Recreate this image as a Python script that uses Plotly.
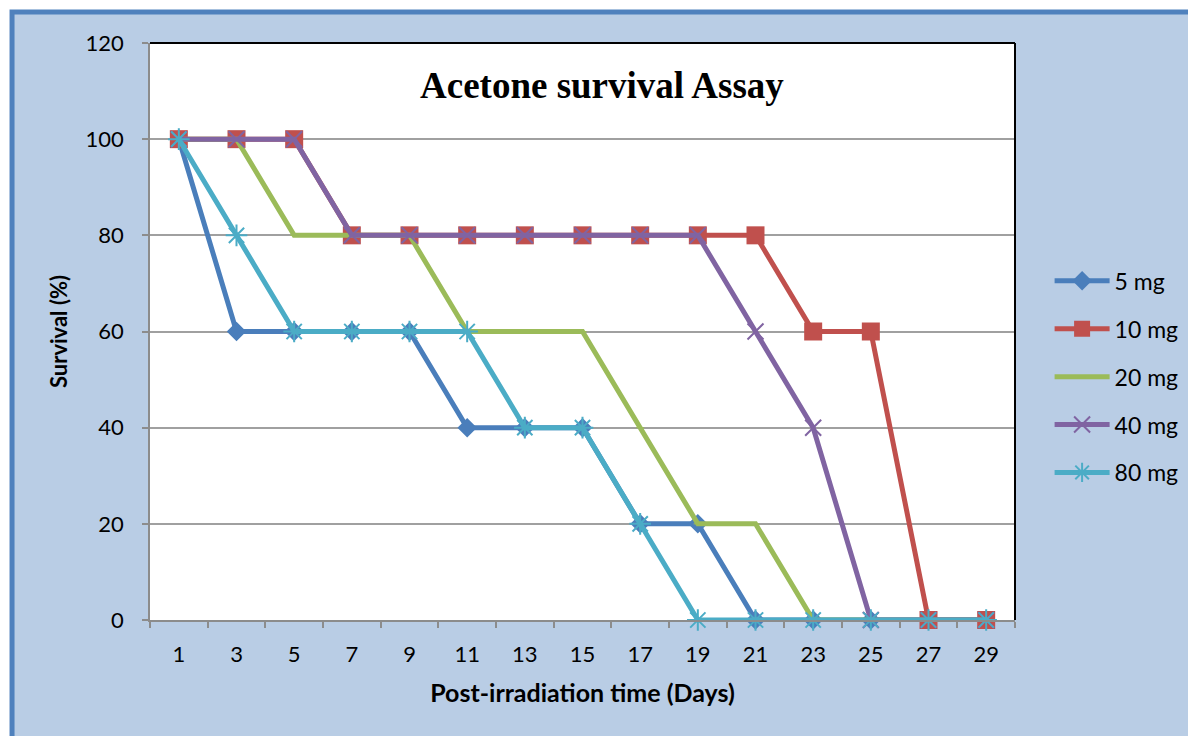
import plotly.graph_objects as go

days = ["1", "3", "5", "7", "9", "11", "13", "15", "17", "19", "21", "23", "25", "27", "29"]
s5 = [100, 60, 60, 60, 60, 40, 40, 40, 20, 20, 0, 0, 0, 0, 0]
s10 = [100, 100, 100, 80, 80, 80, 80, 80, 80, 80, 80, 60, 60, 0, 0]
s20 = [100, 100, 80, 80, 80, 60, 60, 60, 40, 20, 20, 0, 0, 0, 0]
s40 = [100, 100, 100, 80, 80, 80, 80, 80, 80, 80, 60, 40, 0, 0, 0]
s80 = [100, 80, 60, 60, 60, 60, 40, 40, 20, 0, 0, 0, 0, 0, 0]
names = ["5 mg", "10 mg", "20 mg", "40 mg", "80 mg"]

FONT = "Lato"
fig = go.Figure()
styles = [
    dict(color="#4A7EBB", marker=dict(symbol="diamond", size=15, color="#4A7EBB")),
    dict(color="#C0504D", marker=dict(symbol="square", size=18, color="#C0504D")),
    dict(color="#9BBB59", marker=dict(symbol="line-ew", size=6, color="#9BBB59", line=dict(width=1, color="#9BBB59"))),
    dict(color="#8064A2", marker=dict(symbol="x-thin-open", size=16, color="#8064A2", line=dict(width=2, color="#8064A2"))),
    dict(color="#4BACC6", marker=dict(symbol="asterisk-open", size=18, color="#4BACC6", line=dict(width=2, color="#4BACC6"))),
]
for name, ys, st in zip(names, [s5, s10, s20, s40, s80], styles):
    fig.add_trace(go.Scatter(
        x=days, y=ys, name=name, mode="lines+markers", legendgroup=name, cliponaxis=False,
        line=dict(color=st["color"], width=5), marker=st["marker"],
    ))

# page body has an 8px margin; plot area target: x 150..1015, y 43..620
fig.update_layout(
    width=1196, height=736,
    margin=dict(l=142, r=189, t=35, b=124),
    paper_bgcolor="white", plot_bgcolor="white",
    font=dict(family=FONT, size=22, color="black"),
    showlegend=True,
    legend=dict(x=1.04, y=0.625, xanchor="left", yanchor="top", bgcolor="rgba(0,0,0,0)",
                font=dict(size=23, family=FONT), tracegroupgap=15, itemwidth=55),
    xaxis=dict(type="category", range=[-0.5, len(days) - 0.5], tickson="boundaries", ticks="outside", ticklen=6,
               tickcolor="#8C8C8C", tickwidth=1.5, showline=True, linecolor="#8C8C8C", linewidth=1.5,
               showgrid=False, zeroline=False, ticklabelstandoff=14,
               title=dict(text="<b>Post-irradiation time (Days)</b>", font=dict(size=25, family=FONT), standoff=18),
               tickfont=dict(size=22, family=FONT)),
    yaxis=dict(range=[0, 120], dtick=20, ticks="outside", ticklen=6, tickcolor="#8C8C8C", tickwidth=1.5,
               showline=True, linecolor="#8C8C8C", linewidth=1.5, showgrid=True, gridcolor="#A0A0A0",
               gridwidth=1.5, zeroline=False, ticklabelstandoff=14,
               title=dict(text="<b>Survival (%)</b>", font=dict(size=22, family=FONT), standoff=12),
               tickfont=dict(size=22, family=FONT)),
    shapes=[
        dict(type="rect", xref="paper", yref="paper", x0=-0.1595, x1=1.25, y0=-0.25, y1=1.0537,
             fillcolor="#B9CDE5", line=dict(color="#4F81BD", width=5), layer="below"),
        dict(type="rect", xref="paper", yref="paper", x0=0, x1=1, y0=0, y1=1,
             fillcolor="white", line=dict(width=0), layer="below"),
        dict(type="line", xref="paper", yref="paper", x0=0, x1=1, y0=1, y1=1,
             line=dict(color="black", width=2), layer="above"),
        dict(type="line", xref="paper", yref="paper", x0=1, x1=1, y0=0, y1=1,
             line=dict(color="black", width=2), layer="above"),
    ],
    annotations=[
        dict(text="<b>Acetone survival Assay</b>", xref="paper", yref="paper", x=0.5225, y=0.927,
             xanchor="center", yanchor="middle",
             showarrow=False, font=dict(family="Liberation Serif", size=37, color="black")),
    ],
)
fig.write_html("out.html")
